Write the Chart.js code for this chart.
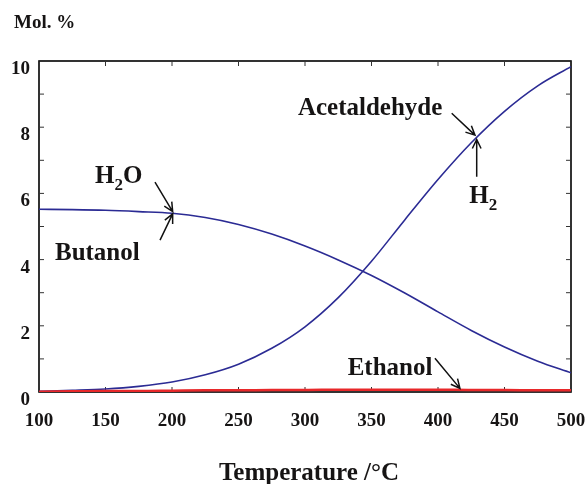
<!DOCTYPE html>
<html>
<head>
<meta charset="utf-8">
<script src="https://cdn.jsdelivr.net/npm/chart.js@4.4.1/dist/chart.umd.min.js"></script>
<style>
  body { margin:0; background:#fff; }
</style>
</head>
<body>
<canvas id="myChart" width="588" height="484"></canvas>
<script>
// temperatures (x) in deg C
const temps = [100,125,150,175,200,225,250,275,300,325,350,375,400,425,450,475,500];
// H2 / acetaldehyde (rising curve)
const h2Acet = [0.02,0.05,0.09,0.17,0.30,0.52,0.84,1.32,1.97,2.85,3.95,5.20,6.42,7.53,8.48,9.25,9.83];
// H2O / butanol (falling curve)
const h2oBut = [5.52,5.51,5.49,5.45,5.40,5.27,5.06,4.77,4.41,3.99,3.52,2.99,2.42,1.86,1.36,0.93,0.58];
// ethanol
const ethanol = [0.01,0.02,0.03,0.03,0.04,0.05,0.05,0.06,0.06,0.07,0.07,0.07,0.07,0.06,0.06,0.05,0.05];

const xTicks = [100,150,200,250,300,350,400,450,500];
const yLabels = [0,2,4,6,8,10];

// annotation labels: [text, subscript, rest, x, y]   (data units)
const labels = [
  ['H','2','O', 142.1, 6.31],
  ['Butanol','','', 112.0, 4.00],
  ['Acetaldehyde','','', 294.7, 8.37],
  ['H','2','', 423.5, 5.72],
  ['Ethanol','','', 332.1, 0.51]
];
// arrows: [tailX, tailY, tipX, tipY]  (data units)
const arrows = [
  [187.2, 6.34, 200.5, 5.45],
  [191.0, 4.59, 200.5, 5.38],
  [410.3, 8.42, 427.8, 7.76],
  [429.1, 6.50, 429.1, 7.63],
  [397.7, 1.02, 416.5, 0.11]
];

const serif = '"Liberation Serif", "Times New Roman", serif';

function pts(ys) { return temps.map((t,i) => ({x:t, y:ys[i]})); }

const decor = {
  id:'decor',
  beforeDatasetsDraw(chart) {
    const c = chart.ctx, a = chart.chartArea;
    const xs = chart.scales.x, ys = chart.scales.y;
    c.save();
    // frame
    c.strokeStyle = '#000';
    c.lineWidth = 1.6;
    c.strokeRect(a.left, a.top, a.right - a.left, a.bottom - a.top);
    // inward ticks
    c.lineWidth = 1;
    c.strokeStyle = '#333';
    xTicks.forEach(v => {
      const px = xs.getPixelForValue(v);
      c.beginPath();
      c.moveTo(px, a.bottom); c.lineTo(px, a.bottom - 5);
      c.moveTo(px, a.top); c.lineTo(px, a.top + 5);
      c.stroke();
    });
    for (let v = 1; v < 10; v++) {
      const py = ys.getPixelForValue(v);
      c.beginPath();
      c.moveTo(a.left, py); c.lineTo(a.left + 5, py);
      c.moveTo(a.right, py); c.lineTo(a.right - 5, py);
      c.stroke();
    }
    c.restore();
  },
  afterDraw(chart) {
    const c = chart.ctx, a = chart.chartArea;
    const xs = chart.scales.x, ys = chart.scales.y;
    c.save();
    // tick labels
    c.fillStyle = '#161414';
    c.font = 'bold 19px ' + serif;
    c.textBaseline = 'alphabetic';
    c.textAlign = 'center';
    xTicks.forEach(v => c.fillText(String(v), xs.getPixelForValue(v), a.bottom + 34));
    c.textAlign = 'right';
    yLabels.forEach(v => c.fillText(String(v), a.left - 9, ys.getPixelForValue(v) + 13));
    // axis titles
    c.textAlign = 'left';
    c.fillText('Mol. %', a.left - 25, a.top - 33);
    c.textAlign = 'center';
    c.font = 'bold 25px ' + serif;
    c.fillText('Temperature /°C', (a.left + a.right) / 2 + 4, a.bottom + 88);
    // curve labels
    c.textAlign = 'left';
    labels.forEach(l => {
      let x = xs.getPixelForValue(l[3]);
      const y = ys.getPixelForValue(l[4]);
      c.font = 'bold 25px ' + serif;
      c.fillText(l[0], x, y);
      x += c.measureText(l[0]).width;
      if (l[1]) {
        c.font = 'bold 17px ' + serif;
        c.fillText(l[1], x, y + 7);
        x += c.measureText(l[1]).width;
      }
      if (l[2]) {
        c.font = 'bold 25px ' + serif;
        c.fillText(l[2], x, y);
      }
    });
    // arrows
    c.strokeStyle = '#111';
    c.lineWidth = 1.5;
    arrows.forEach(ar => {
      const x0 = xs.getPixelForValue(ar[0]), y0 = ys.getPixelForValue(ar[1]);
      const x1 = xs.getPixelForValue(ar[2]), y1 = ys.getPixelForValue(ar[3]);
      const ang = Math.atan2(y1 - y0, x1 - x0);
      c.beginPath();
      c.moveTo(x0, y0); c.lineTo(x1, y1);
      c.moveTo(x1 - 10 * Math.cos(ang - 0.45), y1 - 10 * Math.sin(ang - 0.45));
      c.lineTo(x1, y1);
      c.lineTo(x1 - 10 * Math.cos(ang + 0.45), y1 - 10 * Math.sin(ang + 0.45));
      c.stroke();
    });
    c.restore();
  }
};

const ctx = document.getElementById('myChart').getContext('2d');
const myChart = new Chart(ctx, {
  type: 'line',
  data: {
    datasets: [
      { label:'Ethanol', data: pts(ethanol), borderColor:'#e8282a', borderWidth:2.5 },
      { label:'H2 / Acetaldehyde', data: pts(h2Acet), borderColor:'#2b2b94', borderWidth:1.6 },
      { label:'H2O / Butanol', data: pts(h2oBut), borderColor:'#2b2b94', borderWidth:1.6 }
    ]
  },
  options: {
    responsive:false,
    animation:false,
    layout:{ padding:{ left:39, right:17, top:61, bottom:92 } },
    elements:{
      point:{ radius:0 },
      line:{ cubicInterpolationMode:'monotone', fill:false }
    },
    scales:{
      x:{ type:'linear', min:100, max:500, display:false },
      y:{ min:0, max:10, display:false }
    },
    plugins:{
      legend:{ display:false },
      tooltip:{ enabled:false }
    }
  },
  plugins:[decor]
});
</script>
</body>
</html>
